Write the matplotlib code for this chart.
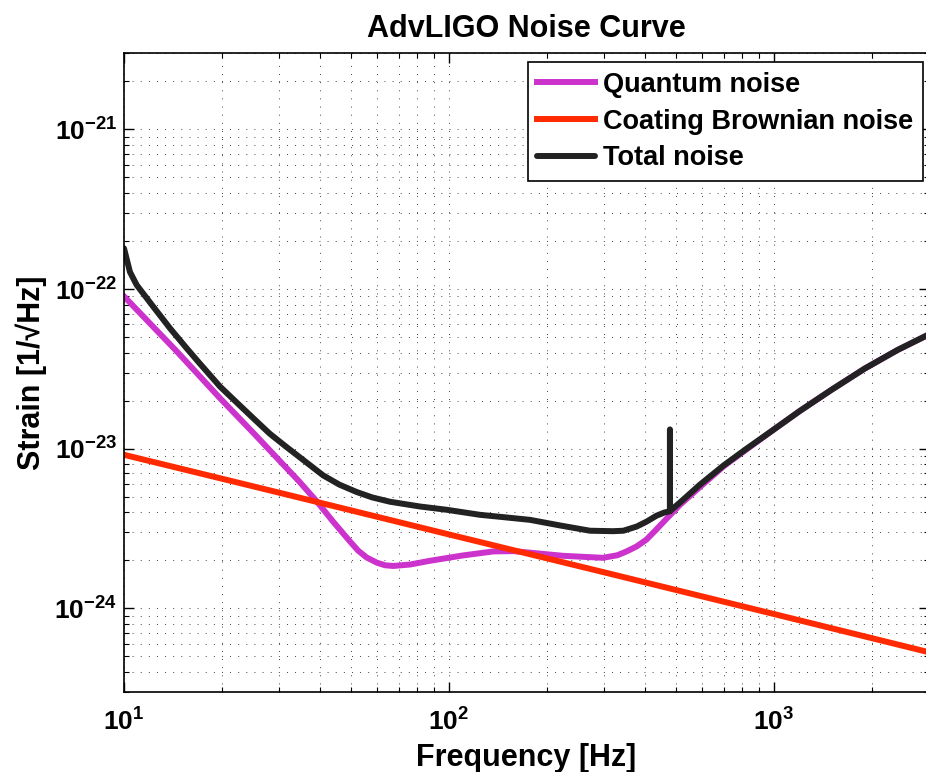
"""AdvLIGO noise budget plot."""

import matplotlib
matplotlib.use("Agg")
import matplotlib.pyplot as plt
from matplotlib.ticker import NullFormatter, LogLocator

# values
quantum_freq = [10, 14.5, 19.7, 25, 30.2, 34.5, 39.2, 44, 49.6, 52.5, 55.8,
                60, 63.5, 67.4, 76, 87, 110, 137, 158, 225, 298, 330, 352,
                378, 405, 435, 468, 514, 592, 700, 824, 1000, 1200, 1500,
                1900, 2400, 3000]
quantum_asd = [9.0e-23, 4.09e-23, 2.08e-23, 1.256e-23, 8.35e-24, 6.27e-24,
               4.67e-24, 3.49e-24, 2.62e-24, 2.3e-24, 2.08e-24, 1.93e-24,
               1.86e-24, 1.84e-24, 1.88e-24, 1.98e-24, 2.14e-24, 2.27e-24,
               2.28e-24, 2.13e-24, 2.07e-24, 2.15e-24, 2.27e-24, 2.44e-24,
               2.69e-24, 3.12e-24, 3.65e-24, 4.45e-24, 5.75e-24, 7.75e-24,
               9.9e-24, 1.32e-23, 1.72e-23, 2.33e-23, 3.17e-23, 4.15e-23,
               5.2e-23]

coating_freq = [10, 30, 100, 300, 1000, 3000]
coating_asd = [9.15e-24, 5.3e-24, 2.9e-24, 1.68e-24, 9.2e-25, 5.3e-25]

total_freq = [10, 10.43, 10.94, 12.3, 13.86, 15.6, 16.93, 19.74, 22.2, 25.0,
              28.1, 31.7, 36, 41.0, 46, 52.0, 58, 65.8, 81.4, 98.4, 124.5,
              140, 177.6, 220, 271.5, 320, 344, 378, 405.6, 435, 460, 478.3,
              478.6, 478.9, 514, 592, 700, 824, 1000, 1200, 1500, 1900, 2400,
              3000]
total_asd = [1.8e-22, 1.28e-22, 1.06e-22, 7.76e-23, 5.67e-23, 4.25e-23,
             3.5e-23, 2.45e-23, 1.95e-23, 1.55e-23, 1.24e-23, 1.02e-23,
             8.35e-24, 6.8e-24, 5.95e-24, 5.35e-24, 4.95e-24, 4.65e-24,
             4.34e-24, 4.14e-24, 3.85e-24, 3.76e-24, 3.58e-24, 3.3e-24,
             3.06e-24, 3.04e-24, 3.06e-24, 3.25e-24, 3.49e-24, 3.8e-24,
             3.98e-24, 4.05e-24, 1.32e-23, 4.07e-24, 4.6e-24, 5.95e-24,
             7.85e-24, 1.0e-23, 1.32e-23, 1.72e-23, 2.33e-23, 3.17e-23,
             4.15e-23, 5.2e-23]

labels = ["Quantum noise", "Coating Brownian noise", "Total noise"]
colors = ["#cc33cc", "#ff2a00", "#222222"]

x_ticks = [10, 100, 1000]
x_ticklabels = [r"$10^{1}$", r"$10^{2}$", r"$10^{3}$"]
y_ticks = [1e-24, 1e-23, 1e-22, 1e-21]
y_ticklabels = [r"$10^{-24}$", r"$10^{-23}$", r"$10^{-22}$", r"$10^{-21}$"]

plt.rcParams["font.family"] = ["Liberation Sans", "DejaVu Sans"]
plt.rcParams["font.weight"] = "bold"
plt.rcParams["mathtext.fontset"] = "custom"
plt.rcParams["mathtext.rm"] = "Liberation Sans:bold"
plt.rcParams["mathtext.bf"] = "Liberation Sans:bold"
plt.rcParams["mathtext.it"] = "Liberation Sans:bold:italic"

fig = plt.figure(figsize=(9.26, 7.72), dpi=100)
ax = fig.add_axes([124 / 926, 80.3 / 772, 805 / 926, 638.4 / 772])

lw = 4.3
ax.loglog(quantum_freq, quantum_asd, color=colors[0], lw=lw, label=labels[0],
          solid_joinstyle="round")
ax.loglog(coating_freq, coating_asd, color=colors[1], lw=lw, label=labels[1])
ax.loglog(total_freq, total_asd, color=colors[2], lw=lw, label=labels[2],
          solid_capstyle="round", solid_joinstyle="round")

ax.set_xlim(10, 3000)
ax.set_ylim(3e-25, 3e-21)

ax.set_xticks(x_ticks)
ax.set_xticklabels(x_ticklabels)
ax.set_yticks(y_ticks)
ax.set_yticklabels(y_ticklabels)
ax.xaxis.set_minor_locator(LogLocator(base=10, subs=range(2, 10), numticks=20))
ax.yaxis.set_minor_locator(LogLocator(base=10, subs=range(2, 10), numticks=20))
ax.xaxis.set_minor_formatter(NullFormatter())
ax.yaxis.set_minor_formatter(NullFormatter())

ax.tick_params(which="both", direction="in", top=True, right=True, labelsize=19)
ax.tick_params(which="major", length=7, width=1)
ax.tick_params(which="minor", length=3.5, width=0.8)
ax.tick_params(axis="x", which="major", pad=12)
ax.tick_params(axis="y", which="major", pad=5)

ax.grid(True, which="both", ls=(0, (1, 8)), color="0.15", lw=0.65)
for sp in ax.spines.values():
    sp.set_linewidth(1.2)

ax.set_title("AdvLIGO Noise Curve", fontsize=22, fontweight="bold", pad=12)
ax.set_xlabel("Frequency [Hz]", fontsize=22, fontweight="bold", labelpad=5)
ax.set_ylabel("Strain [1/\u221aHz]", fontsize=22, fontweight="bold", labelpad=5)

leg = ax.legend(loc="upper right", bbox_to_anchor=(0.9925, 0.986),
                borderaxespad=0, fontsize=19.5, fancybox=False,
                edgecolor="black", framealpha=1, handlelength=2.15,
                handletextpad=0.3, borderpad=0.35, labelspacing=0.4)
leg.get_frame().set_linewidth(1.2)

fig.savefig("out.png", dpi=100)
